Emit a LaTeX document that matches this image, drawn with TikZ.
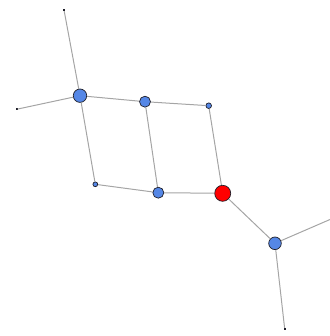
\documentclass[tikz,border=0pt]{standalone}
\definecolor{nodeblue}{RGB}{85,135,230}
\definecolor{edgegray}{RGB}{165,165,165}
\definecolor{rim}{RGB}{30,30,40}
\tikzset{
  vtx/.style={circle, draw=rim, line width=0.7pt, fill=nodeblue, inner sep=0pt, minimum size=#1},
  redvtx/.style={circle, draw=rim, line width=0.7pt, fill=red, inner sep=0pt, minimum size=#1},
  leaf/.style={rectangle, fill=rim, inner sep=0pt, minimum size=2pt},
  edge/.style={draw=edgegray, line width=1pt}
}
\begin{document}
\begin{tikzpicture}[x=1pt,y=-1pt]
\useasboundingbox (0,0) rectangle (329,336);
\node[leaf] (t) at (64,10) {};
\node[leaf] (l) at (16.5,109.3) {};
\node[leaf] (b) at (284.7,329) {};
\coordinate (r) at (345,213);
\node[vtx=13.4pt] (A) at (80,95.7) {};
\node[vtx=11pt] (B) at (145,101.7) {};
\node[vtx=5.6pt] (C) at (208.7,105.7) {};
\node[vtx=4.8pt] (D) at (95.3,184.3) {};
\node[vtx=11pt] (E) at (158.3,192.7) {};
\node[redvtx=16pt] (F) at (222.7,193.3) {};
\node[vtx=12.6pt] (G) at (275,243.3) {};
\path[edge] (t) -- (A) (l) -- (A) (A) -- (B) (B) -- (C) (A) -- (D) (B) -- (E)
  (C) -- (F) (D) -- (E) (E) -- (F) (F) -- (G) (G) -- (r) (G) -- (b);
\end{tikzpicture}
\end{document}
